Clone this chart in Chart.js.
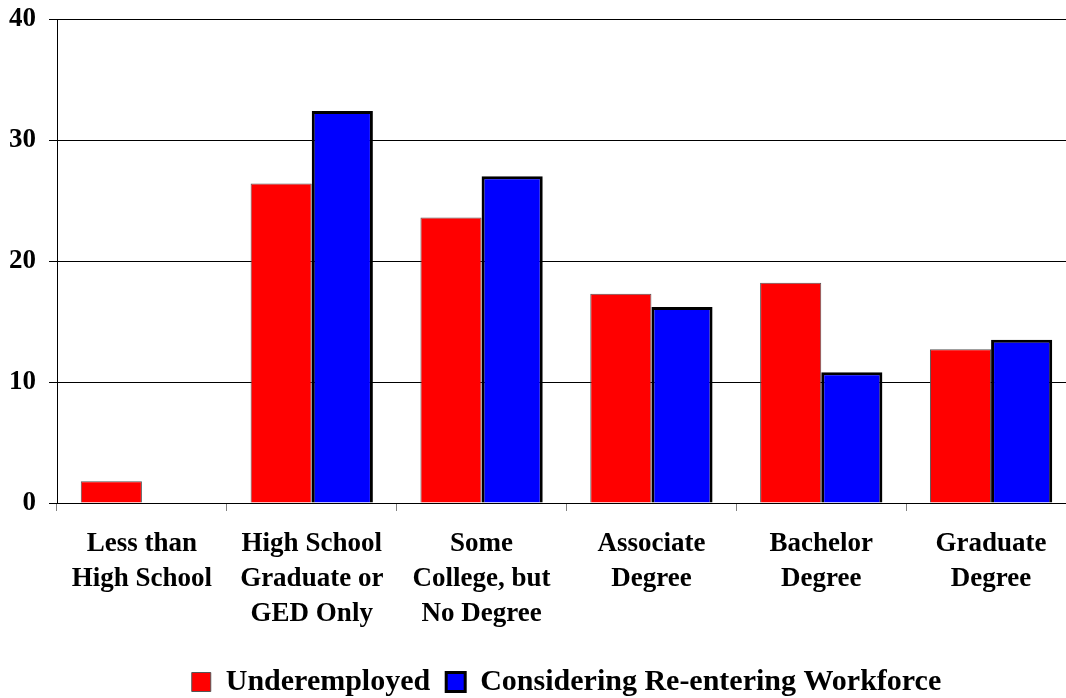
<!DOCTYPE html>
<html>
<head>
<meta charset="utf-8">
<script src="https://cdn.jsdelivr.net/npm/chart.js@4/dist/chart.umd.min.js"></script>
<style>
  html, body { margin: 0; padding: 0; background: #fff; overflow: hidden; }
  #wrap { width: 1100px; height: 698px; }
</style>
</head>
<body>
<div id="wrap"><canvas id="grafico"></canvas></div>
<script>
const categorias = [
  ['Less than', 'High School'],
  ['High School', 'Graduate or', 'GED Only'],
  ['Some', 'College, but', 'No Degree'],
  ['Associate', 'Degree'],
  ['Bachelor', 'Degree'],
  ['Graduate', 'Degree']
];
const underemployed = [1.8, 26.4, 23.6, 17.3, 18.2, 12.7];
const reentering = [0, 32.4, 27.0, 16.2, 10.8, 13.5];
const ticksY = [0, 10, 20, 30, 40];

const fuente = "'Liberation Serif', 'Times New Roman', serif";

const ctx = document.getElementById('grafico').getContext('2d');
const grafico = new Chart(ctx, {
  type: 'bar',
  data: {
    labels: categorias,
    datasets: [{
      label: 'Underemployed',
      data: underemployed,
      backgroundColor: '#FF0000',
      borderColor: '#555555',
      borderWidth: 1,
      categoryPercentage: 0.72,
      barPercentage: 1.0
    }, {
      label: 'Considering Re-entering Workforce',
      data: reentering,
      backgroundColor: '#0000FF',
      borderColor: '#000000',
      borderWidth: 3,
      categoryPercentage: 0.72,
      barPercentage: 1.0
    }]
  },
  options: {
    responsive: true,
    maintainAspectRatio: false,
    animation: false,
    layout: { padding: { top: 0, left: 8, right: 24, bottom: -9 } },
    plugins: {
      tooltip: { enabled: false },
      legend: {
        position: 'bottom',
        fullSize: false,
        labels: {
          color: '#000',
          boxWidth: 19,
          boxHeight: 19,
          padding: 16,
          font: { family: fuente, size: 30, weight: 'bold' }
        }
      }
    },
    scales: {
      x: {
        grid: {
          offset: true,
          drawOnChartArea: false,
          drawTicks: true,
          tickLength: 8,
          color: '#808080'
        },
        border: { display: true, color: '#000' },
        ticks: {
          color: '#000',
          autoSkip: false,
          maxRotation: 0,
          padding: 15,
          font: { family: fuente, size: 27, weight: 'bold', lineHeight: 1.3 }
        },
        afterFit: function(scale) { scale.height = 148; }
      },
      y: {
        min: 0,
        max: 40,
        afterBuildTicks: function(scale) {
          scale.ticks = ticksY.map(v => ({ value: v }));
        },
        grid: {
          color: '#000',
          tickLength: 8,
          drawTicks: true
        },
        border: { display: true, color: '#000' },
        ticks: {
          color: '#000',
          padding: 13,
          font: { family: fuente, size: 27, weight: 'bold', lineHeight: 0.45 }
        },
        afterFit: function(scale) { scale.width = 49; }
      }
    }
  }
});
</script>
</body>
</html>
